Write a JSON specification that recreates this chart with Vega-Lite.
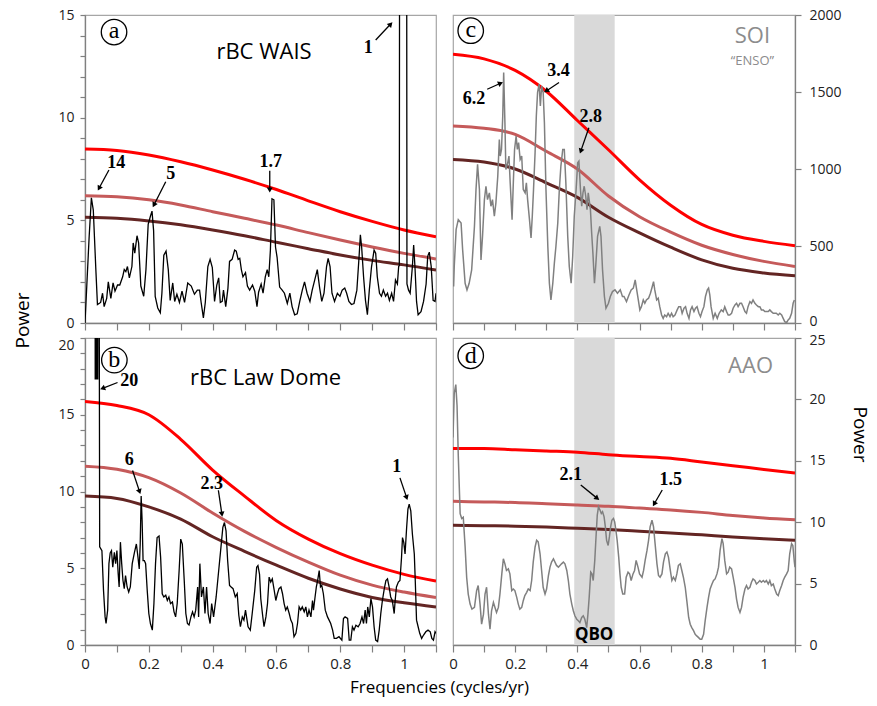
{
"$schema": "https://vega.github.io/schema/vega-lite/v6.json",
"padding": {"left": 13, "top": 7, "right": 5, "bottom": 5},
"background": "white",
"bounds": "flush",
"align": "each",
"columns": 2,
"spacing": {"row": 15, "column": 17},
"datasets": {
"specA": [{"f":0,"p":0},{"f":0.013,"p":4.2},{"f":0.02,"p":6.1},{"f":0.026,"p":5.5},{"f":0.034,"p":2.6},{"f":0.039,"p":0.9},{"f":0.049,"p":1.0},{"f":0.055,"p":1.45},{"f":0.06,"p":0.8},{"f":0.068,"p":1.2},{"f":0.073,"p":2.0},{"f":0.081,"p":1.2},{"f":0.088,"p":1.95},{"f":0.094,"p":1.55},{"f":0.102,"p":1.85},{"f":0.109,"p":1.85},{"f":0.118,"p":2.25},{"f":0.123,"p":2.6},{"f":0.128,"p":2.5},{"f":0.133,"p":2.75},{"f":0.139,"p":2.2},{"f":0.147,"p":2.75},{"f":0.151,"p":3.9},{"f":0.156,"p":3.4},{"f":0.163,"p":4.25},{"f":0.168,"p":3.9},{"f":0.175,"p":1.8},{"f":0.184,"p":1.3},{"f":0.191,"p":2.6},{"f":0.198,"p":4.8},{"f":0.205,"p":5.2},{"f":0.21,"p":5.45},{"f":0.215,"p":4.5},{"f":0.22,"p":1.3},{"f":0.228,"p":0.73},{"f":0.236,"p":0.5},{"f":0.241,"p":1.45},{"f":0.247,"p":3.3},{"f":0.254,"p":3.5},{"f":0.261,"p":2.6},{"f":0.267,"p":1.1},{"f":0.275,"p":1.95},{"f":0.281,"p":1.05},{"f":0.288,"p":1.4},{"f":0.296,"p":1.0},{"f":0.304,"p":1.55},{"f":0.312,"p":1.0},{"f":0.322,"p":1.95},{"f":0.333,"p":1.8},{"f":0.343,"p":1.4},{"f":0.352,"p":1.6},{"f":0.359,"p":1.6},{"f":0.364,"p":1.0},{"f":0.371,"p":0.25},{"f":0.377,"p":1.0},{"f":0.385,"p":2.75},{"f":0.392,"p":3.1},{"f":0.399,"p":2.7},{"f":0.406,"p":1.05},{"f":0.413,"p":1.85},{"f":0.419,"p":2.2},{"f":0.424,"p":1.0},{"f":0.43,"p":1.05},{"f":0.434,"p":1.6},{"f":0.441,"p":0.8},{"f":0.448,"p":1.7},{"f":0.453,"p":3.0},{"f":0.461,"p":3.1},{"f":0.469,"p":3.55},{"f":0.474,"p":3.5},{"f":0.48,"p":3.1},{"f":0.485,"p":3.15},{"f":0.49,"p":2.6},{"f":0.495,"p":2.25},{"f":0.503,"p":2.45},{"f":0.509,"p":1.8},{"f":0.516,"p":1.6},{"f":0.525,"p":1.85},{"f":0.532,"p":1.55},{"f":0.539,"p":0.8},{"f":0.544,"p":1.5},{"f":0.552,"p":1.9},{"f":0.558,"p":1.45},{"f":0.565,"p":2.25},{"f":0.571,"p":2.6},{"f":0.576,"p":2.25},{"f":0.581,"p":3.55},{"f":0.586,"p":6.05},{"f":0.592,"p":6.0},{"f":0.597,"p":3.7},{"f":0.602,"p":3.2},{"f":0.61,"p":1.75},{"f":0.618,"p":1.6},{"f":0.625,"p":1.45},{"f":0.634,"p":0.95},{"f":0.642,"p":1.45},{"f":0.649,"p":0.8},{"f":0.657,"p":0.4},{"f":0.665,"p":0.45},{"f":0.673,"p":1.05},{"f":0.681,"p":1.6},{"f":0.688,"p":2.0},{"f":0.696,"p":1.45},{"f":0.705,"p":1.05},{"f":0.712,"p":1.6},{"f":0.72,"p":2.1},{"f":0.728,"p":2.6},{"f":0.735,"p":1.75},{"f":0.742,"p":1.05},{"f":0.749,"p":1.45},{"f":0.757,"p":2.75},{"f":0.762,"p":3.15},{"f":0.768,"p":2.75},{"f":0.774,"p":1.45},{"f":0.782,"p":1.05},{"f":0.791,"p":1.45},{"f":0.799,"p":1.3},{"f":0.806,"p":1.6},{"f":0.814,"p":1.7},{"f":0.82,"p":1.45},{"f":0.827,"p":1.05},{"f":0.835,"p":0.9},{"f":0.843,"p":0.95},{"f":0.852,"p":1.6},{"f":0.859,"p":3.25},{"f":0.863,"p":4.3},{"f":0.867,"p":3.7},{"f":0.873,"p":2.25},{"f":0.879,"p":1.1},{"f":0.885,"p":0.4},{"f":0.891,"p":1.6},{"f":0.898,"p":2.75},{"f":0.906,"p":3.55},{"f":0.911,"p":3.4},{"f":0.916,"p":2.25},{"f":0.923,"p":1.45},{"f":0.929,"p":1.3},{"f":0.935,"p":1.6},{"f":0.942,"p":1.3},{"f":0.948,"p":1.45},{"f":0.954,"p":1.1},{"f":0.961,"p":1.45},{"f":0.967,"p":1.05},{"f":0.973,"p":2.1},{"f":0.979,"p":1.9},{"f":0.983,"p":2.75},{"f":0.985,"p":2.8},{"f":0.987,"p":40},{"f":0.997,"p":80},{"f":1.007,"p":40},{"f":1.009,"p":1.9},{"f":1.014,"p":1.6},{"f":1.019,"p":1.45},{"f":1.026,"p":2.75},{"f":1.03,"p":3.8},{"f":1.034,"p":2.75},{"f":1.039,"p":1.05},{"f":1.044,"p":0.4},{"f":1.053,"p":0.55},{"f":1.061,"p":1.05},{"f":1.069,"p":1.9},{"f":1.074,"p":3.25},{"f":1.079,"p":3.45},{"f":1.085,"p":2.75},{"f":1.091,"p":1.1},{"f":1.097,"p":1.05},{"f":1.1,"p":1.45}],
"specB": [{"f":0,"p":60},{"f":0.031,"p":45},{"f":0.032,"p":17.3},{"f":0.034,"p":35},{"f":0.036,"p":17.3},{"f":0.038,"p":35},{"f":0.04,"p":17.3},{"f":0.042,"p":35},{"f":0.044,"p":30},{"f":0.046,"p":6.4},{"f":0.053,"p":6.15},{"f":0.058,"p":3.56},{"f":0.063,"p":1.83},{"f":0.066,"p":1.4},{"f":0.071,"p":2.27},{"f":0.075,"p":5.3},{"f":0.079,"p":6.0},{"f":0.083,"p":6.15},{"f":0.087,"p":5.07},{"f":0.092,"p":6.04},{"f":0.096,"p":5.3},{"f":0.1,"p":6.15},{"f":0.104,"p":4.64},{"f":0.107,"p":3.78},{"f":0.111,"p":6.7},{"f":0.115,"p":5.3},{"f":0.119,"p":4.2},{"f":0.123,"p":3.67},{"f":0.127,"p":4.53},{"f":0.132,"p":3.78},{"f":0.137,"p":3.45},{"f":0.142,"p":3.78},{"f":0.148,"p":5.3},{"f":0.155,"p":6.04},{"f":0.161,"p":6.58},{"f":0.166,"p":5.72},{"f":0.17,"p":4.96},{"f":0.173,"p":6.58},{"f":0.176,"p":9.7},{"f":0.179,"p":8.1},{"f":0.182,"p":5.5},{"f":0.186,"p":5.5},{"f":0.19,"p":5.3},{"f":0.195,"p":3.56},{"f":0.2,"p":2.05},{"f":0.205,"p":1.4},{"f":0.211,"p":0.97},{"f":0.216,"p":2.7},{"f":0.221,"p":5.3},{"f":0.226,"p":7.0},{"f":0.232,"p":7.1},{"f":0.237,"p":5.72},{"f":0.242,"p":3.34},{"f":0.247,"p":3.13},{"f":0.253,"p":3.24},{"f":0.258,"p":2.9},{"f":0.263,"p":3.13},{"f":0.268,"p":2.7},{"f":0.274,"p":2.8},{"f":0.279,"p":2.16},{"f":0.284,"p":1.83},{"f":0.289,"p":2.7},{"f":0.295,"p":4.85},{"f":0.3,"p":6.9},{"f":0.305,"p":6.58},{"f":0.311,"p":4.2},{"f":0.316,"p":2.05},{"f":0.321,"p":1.4},{"f":0.326,"p":1.3},{"f":0.332,"p":1.83},{"f":0.337,"p":2.16},{"f":0.342,"p":1.83},{"f":0.347,"p":2.27},{"f":0.353,"p":3.78},{"f":0.356,"p":1.83},{"f":0.36,"p":5.3},{"f":0.365,"p":3.13},{"f":0.371,"p":3.78},{"f":0.376,"p":2.05},{"f":0.381,"p":3.78},{"f":0.386,"p":2.05},{"f":0.392,"p":1.4},{"f":0.397,"p":2.7},{"f":0.403,"p":1.83},{"f":0.411,"p":3.13},{"f":0.419,"p":4.85},{"f":0.426,"p":6.36},{"f":0.432,"p":7.66},{"f":0.437,"p":7.98},{"f":0.442,"p":7.44},{"f":0.447,"p":5.5},{"f":0.453,"p":3.88},{"f":0.458,"p":3.78},{"f":0.464,"p":3.67},{"f":0.471,"p":3.13},{"f":0.477,"p":3.34},{"f":0.482,"p":1.94},{"f":0.487,"p":1.19},{"f":0.493,"p":1.83},{"f":0.498,"p":1.62},{"f":0.503,"p":2.27},{"f":0.511,"p":1.19},{"f":0.518,"p":0.97},{"f":0.524,"p":2.05},{"f":0.532,"p":3.56},{"f":0.538,"p":5.07},{"f":0.542,"p":5.18},{"f":0.547,"p":4.6},{"f":0.551,"p":3.0},{"f":0.556,"p":2.05},{"f":0.561,"p":1.19},{"f":0.567,"p":1.83},{"f":0.572,"p":2.7},{"f":0.577,"p":4.42},{"f":0.582,"p":4.1},{"f":0.587,"p":4.31},{"f":0.593,"p":3.56},{"f":0.598,"p":2.9},{"f":0.603,"p":3.34},{"f":0.608,"p":3.67},{"f":0.614,"p":3.78},{"f":0.619,"p":3.34},{"f":0.624,"p":2.7},{"f":0.629,"p":2.27},{"f":0.634,"p":2.48},{"f":0.64,"p":2.05},{"f":0.645,"p":1.62},{"f":0.65,"p":1.4},{"f":0.655,"p":0.54},{"f":0.661,"p":0.76},{"f":0.666,"p":1.4},{"f":0.671,"p":2.48},{"f":0.676,"p":2.27},{"f":0.681,"p":2.48},{"f":0.687,"p":2.16},{"f":0.692,"p":2.48},{"f":0.697,"p":1.83},{"f":0.702,"p":2.27},{"f":0.708,"p":1.83},{"f":0.713,"p":2.9},{"f":0.716,"p":2.27},{"f":0.721,"p":3.13},{"f":0.725,"p":3.78},{"f":0.729,"p":4.2},{"f":0.734,"p":4.85},{"f":0.738,"p":3.78},{"f":0.742,"p":3.88},{"f":0.747,"p":3.34},{"f":0.753,"p":2.27},{"f":0.76,"p":1.83},{"f":0.765,"p":1.62},{"f":0.77,"p":1.4},{"f":0.776,"p":0.97},{"f":0.781,"p":0.43},{"f":0.788,"p":0.43},{"f":0.796,"p":0.54},{"f":0.805,"p":0.32},{"f":0.81,"p":1.73},{"f":0.815,"p":1.83},{"f":0.823,"p":1.73},{"f":0.828,"p":0.32},{"f":0.833,"p":0.32},{"f":0.838,"p":1.19},{"f":0.843,"p":0.97},{"f":0.849,"p":1.29},{"f":0.856,"p":1.19},{"f":0.862,"p":1.4},{"f":0.868,"p":1.83},{"f":0.873,"p":1.4},{"f":0.878,"p":2.27},{"f":0.882,"p":1.4},{"f":0.886,"p":2.48},{"f":0.891,"p":1.83},{"f":0.896,"p":3.02},{"f":0.901,"p":2.48},{"f":0.906,"p":1.19},{"f":0.911,"p":0.32},{"f":0.917,"p":0.22},{"f":0.922,"p":0.97},{"f":0.927,"p":2.05},{"f":0.932,"p":2.9},{"f":0.938,"p":3.67},{"f":0.943,"p":4.2},{"f":0.948,"p":4.31},{"f":0.953,"p":3.78},{"f":0.958,"p":3.13},{"f":0.963,"p":2.9},{"f":0.969,"p":2.05},{"f":0.972,"p":2.9},{"f":0.976,"p":3.78},{"f":0.982,"p":4.1},{"f":0.987,"p":4.2},{"f":0.992,"p":5.72},{"f":0.995,"p":7.0},{"f":0.999,"p":6.69},{"f":1.003,"p":5.93},{"f":1.008,"p":7.66},{"f":1.012,"p":8.85},{"f":1.016,"p":9.17},{"f":1.021,"p":8.74},{"f":1.026,"p":7.23},{"f":1.032,"p":5.93},{"f":1.035,"p":4.2},{"f":1.039,"p":1.62},{"f":1.044,"p":1.19},{"f":1.049,"p":0.76},{"f":1.055,"p":0.43},{"f":1.061,"p":0.65},{"f":1.068,"p":0.86},{"f":1.075,"p":0.97},{"f":1.082,"p":0.86},{"f":1.087,"p":0.43},{"f":1.092,"p":0.32},{"f":1.097,"p":0.86},{"f":1.1,"p":0.76}],
"specC": [{"f":0.002,"p":237},{"f":0.004,"p":367},{"f":0.01,"p":606},{"f":0.017,"p":671},{"f":0.026,"p":649},{"f":0.031,"p":476},{"f":0.039,"p":258},{"f":0.045,"p":215},{"f":0.052,"p":258},{"f":0.06,"p":345},{"f":0.069,"p":628},{"f":0.074,"p":867},{"f":0.079,"p":1030},{"f":0.085,"p":867},{"f":0.09,"p":410},{"f":0.095,"p":563},{"f":0.101,"p":801},{"f":0.106,"p":888},{"f":0.111,"p":801},{"f":0.117,"p":845},{"f":0.122,"p":758},{"f":0.127,"p":801},{"f":0.133,"p":693},{"f":0.138,"p":780},{"f":0.144,"p":953},{"f":0.149,"p":1192},{"f":0.152,"p":1084},{"f":0.156,"p":1127},{"f":0.16,"p":1344},{"f":0.163,"p":1627},{"f":0.167,"p":1301},{"f":0.17,"p":997},{"f":0.176,"p":1040},{"f":0.18,"p":1084},{"f":0.184,"p":910},{"f":0.19,"p":671},{"f":0.194,"p":910},{"f":0.198,"p":1127},{"f":0.203,"p":1214},{"f":0.207,"p":1127},{"f":0.211,"p":1171},{"f":0.216,"p":1062},{"f":0.221,"p":1084},{"f":0.226,"p":867},{"f":0.232,"p":845},{"f":0.236,"p":910},{"f":0.24,"p":801},{"f":0.246,"p":671},{"f":0.251,"p":552},{"f":0.255,"p":693},{"f":0.259,"p":867},{"f":0.264,"p":1106},{"f":0.268,"p":1344},{"f":0.272,"p":1497},{"f":0.277,"p":1551},{"f":0.281,"p":1410},{"f":0.285,"p":1540},{"f":0.29,"p":1497},{"f":0.294,"p":1301},{"f":0.299,"p":867},{"f":0.305,"p":497},{"f":0.31,"p":258},{"f":0.315,"p":150},{"f":0.321,"p":258},{"f":0.326,"p":389},{"f":0.331,"p":497},{"f":0.337,"p":649},{"f":0.342,"p":867},{"f":0.347,"p":1019},{"f":0.353,"p":1127},{"f":0.358,"p":1127},{"f":0.363,"p":910},{"f":0.369,"p":563},{"f":0.374,"p":367},{"f":0.38,"p":258},{"f":0.385,"p":432},{"f":0.39,"p":693},{"f":0.396,"p":867},{"f":0.401,"p":1040},{"f":0.405,"p":1051},{"f":0.41,"p":867},{"f":0.414,"p":758},{"f":0.418,"p":845},{"f":0.422,"p":888},{"f":0.427,"p":823},{"f":0.431,"p":736},{"f":0.435,"p":845},{"f":0.442,"p":736},{"f":0.446,"p":584},{"f":0.45,"p":454},{"f":0.455,"p":258},{"f":0.459,"p":367},{"f":0.465,"p":563},{"f":0.472,"p":628},{"f":0.476,"p":563},{"f":0.481,"p":345},{"f":0.487,"p":172},{"f":0.492,"p":96},{"f":0.5,"p":128},{"f":0.506,"p":172},{"f":0.513,"p":204},{"f":0.521,"p":215},{"f":0.529,"p":193},{"f":0.538,"p":215},{"f":0.545,"p":172},{"f":0.55,"p":172},{"f":0.558,"p":139},{"f":0.566,"p":182},{"f":0.573,"p":215},{"f":0.58,"p":226},{"f":0.586,"p":280},{"f":0.59,"p":226},{"f":0.596,"p":150},{"f":0.601,"p":85},{"f":0.606,"p":106},{"f":0.612,"p":150},{"f":0.617,"p":128},{"f":0.622,"p":150},{"f":0.629,"p":161},{"f":0.635,"p":193},{"f":0.641,"p":237},{"f":0.645,"p":269},{"f":0.649,"p":215},{"f":0.655,"p":150},{"f":0.66,"p":161},{"f":0.665,"p":106},{"f":0.671,"p":52},{"f":0.676,"p":30},{"f":0.681,"p":52},{"f":0.687,"p":41},{"f":0.692,"p":63},{"f":0.698,"p":41},{"f":0.703,"p":63},{"f":0.708,"p":41},{"f":0.714,"p":52},{"f":0.721,"p":85},{"f":0.726,"p":106},{"f":0.732,"p":106},{"f":0.737,"p":63},{"f":0.743,"p":96},{"f":0.748,"p":106},{"f":0.753,"p":63},{"f":0.759,"p":30},{"f":0.764,"p":85},{"f":0.769,"p":106},{"f":0.775,"p":74},{"f":0.78,"p":96},{"f":0.785,"p":106},{"f":0.791,"p":63},{"f":0.796,"p":41},{"f":0.801,"p":74},{"f":0.807,"p":106},{"f":0.812,"p":172},{"f":0.818,"p":215},{"f":0.822,"p":226},{"f":0.826,"p":182},{"f":0.83,"p":106},{"f":0.837,"p":30},{"f":0.843,"p":63},{"f":0.85,"p":30},{"f":0.856,"p":63},{"f":0.863,"p":85},{"f":0.869,"p":74},{"f":0.874,"p":106},{"f":0.88,"p":74},{"f":0.885,"p":52},{"f":0.89,"p":52},{"f":0.896,"p":63},{"f":0.901,"p":96},{"f":0.907,"p":117},{"f":0.912,"p":128},{"f":0.917,"p":106},{"f":0.923,"p":128},{"f":0.928,"p":128},{"f":0.933,"p":106},{"f":0.939,"p":74},{"f":0.944,"p":63},{"f":0.949,"p":106},{"f":0.955,"p":139},{"f":0.96,"p":128},{"f":0.965,"p":150},{"f":0.971,"p":128},{"f":0.976,"p":117},{"f":0.982,"p":106},{"f":0.987,"p":106},{"f":0.992,"p":85},{"f":0.998,"p":85},{"f":1.003,"p":74},{"f":1.008,"p":74},{"f":1.014,"p":74},{"f":1.019,"p":85},{"f":1.024,"p":74},{"f":1.03,"p":63},{"f":1.035,"p":63},{"f":1.04,"p":63},{"f":1.046,"p":52},{"f":1.051,"p":63},{"f":1.057,"p":52},{"f":1.062,"p":30},{"f":1.067,"p":9},{"f":1.073,"p":2},{"f":1.078,"p":20},{"f":1.083,"p":30},{"f":1.089,"p":63},{"f":1.094,"p":128},{"f":1.098,"p":150}],
"specD": [{"f":0,"p":16.9},{"f":0.004,"p":20.5},{"f":0.009,"p":21.2},{"f":0.013,"p":19.5},{"f":0.017,"p":15.4},{"f":0.023,"p":10.7},{"f":0.028,"p":10.3},{"f":0.033,"p":10.4},{"f":0.039,"p":8.0},{"f":0.044,"p":5.5},{"f":0.049,"p":4.15},{"f":0.055,"p":3.33},{"f":0.061,"p":2.92},{"f":0.069,"p":3.06},{"f":0.076,"p":4.43},{"f":0.081,"p":4.84},{"f":0.087,"p":3.33},{"f":0.092,"p":1.7},{"f":0.098,"p":2.51},{"f":0.103,"p":4.15},{"f":0.108,"p":4.7},{"f":0.114,"p":2.51},{"f":0.119,"p":1.28},{"f":0.124,"p":2.79},{"f":0.13,"p":3.47},{"f":0.135,"p":3.06},{"f":0.14,"p":2.65},{"f":0.146,"p":3.06},{"f":0.151,"p":4.15},{"f":0.157,"p":5.79},{"f":0.162,"p":7.02},{"f":0.167,"p":6.61},{"f":0.172,"p":6.07},{"f":0.178,"p":6.2},{"f":0.183,"p":5.79},{"f":0.189,"p":4.43},{"f":0.194,"p":4.56},{"f":0.199,"p":4.43},{"f":0.205,"p":3.88},{"f":0.21,"p":3.33},{"f":0.215,"p":2.92},{"f":0.221,"p":3.06},{"f":0.226,"p":3.61},{"f":0.231,"p":4.02},{"f":0.237,"p":4.29},{"f":0.242,"p":4.56},{"f":0.248,"p":4.43},{"f":0.253,"p":5.25},{"f":0.258,"p":6.75},{"f":0.264,"p":7.98},{"f":0.269,"p":8.52},{"f":0.274,"p":8.39},{"f":0.28,"p":7.43},{"f":0.285,"p":6.07},{"f":0.29,"p":4.7},{"f":0.296,"p":4.15},{"f":0.301,"p":4.56},{"f":0.307,"p":5.66},{"f":0.312,"p":6.34},{"f":0.317,"p":6.75},{"f":0.323,"p":7.02},{"f":0.328,"p":6.75},{"f":0.333,"p":6.48},{"f":0.339,"p":6.34},{"f":0.344,"p":6.48},{"f":0.349,"p":6.61},{"f":0.355,"p":6.75},{"f":0.36,"p":6.61},{"f":0.366,"p":6.07},{"f":0.371,"p":5.25},{"f":0.376,"p":4.15},{"f":0.382,"p":3.33},{"f":0.387,"p":2.79},{"f":0.392,"p":2.38},{"f":0.398,"p":2.1},{"f":0.403,"p":1.97},{"f":0.408,"p":1.83},{"f":0.414,"p":2.24},{"f":0.419,"p":2.38},{"f":0.424,"p":2.1},{"f":0.43,"p":1.42},{"f":0.434,"p":2.51},{"f":0.438,"p":3.88},{"f":0.443,"p":5.93},{"f":0.447,"p":5.79},{"f":0.451,"p":5.25},{"f":0.456,"p":6.89},{"f":0.46,"p":8.8},{"f":0.464,"p":10.57},{"f":0.468,"p":11.26},{"f":0.473,"p":10.98},{"f":0.477,"p":10.71},{"f":0.481,"p":10.85},{"f":0.486,"p":10.44},{"f":0.49,"p":9.62},{"f":0.494,"p":8.52},{"f":0.499,"p":8.11},{"f":0.503,"p":8.8},{"f":0.507,"p":9.62},{"f":0.511,"p":10.16},{"f":0.516,"p":10.3},{"f":0.52,"p":10.03},{"f":0.524,"p":9.34},{"f":0.528,"p":8.52},{"f":0.533,"p":7.16},{"f":0.537,"p":5.79},{"f":0.541,"p":4.7},{"f":0.546,"p":4.15},{"f":0.552,"p":4.15},{"f":0.557,"p":5.52},{"f":0.563,"p":5.93},{"f":0.568,"p":5.79},{"f":0.573,"p":5.25},{"f":0.579,"p":5.79},{"f":0.584,"p":6.07},{"f":0.589,"p":6.89},{"f":0.595,"p":6.34},{"f":0.6,"p":5.79},{"f":0.608,"p":5.52},{"f":0.613,"p":6.07},{"f":0.618,"p":6.89},{"f":0.624,"p":7.7},{"f":0.629,"p":8.52},{"f":0.634,"p":9.62},{"f":0.64,"p":10.16},{"f":0.645,"p":9.62},{"f":0.65,"p":8.25},{"f":0.656,"p":6.61},{"f":0.661,"p":5.66},{"f":0.666,"p":5.52},{"f":0.672,"p":5.79},{"f":0.677,"p":6.75},{"f":0.683,"p":7.43},{"f":0.688,"p":7.57},{"f":0.693,"p":7.16},{"f":0.699,"p":6.07},{"f":0.704,"p":5.25},{"f":0.709,"p":5.52},{"f":0.715,"p":5.25},{"f":0.72,"p":5.79},{"f":0.725,"p":6.48},{"f":0.731,"p":6.61},{"f":0.736,"p":6.07},{"f":0.741,"p":5.52},{"f":0.747,"p":4.7},{"f":0.752,"p":3.61},{"f":0.758,"p":2.24},{"f":0.763,"p":1.69},{"f":0.768,"p":1.42},{"f":0.774,"p":1.15},{"f":0.779,"p":0.87},{"f":0.784,"p":0.74},{"f":0.79,"p":0.6},{"f":0.795,"p":0.46},{"f":0.8,"p":0.46},{"f":0.806,"p":0.87},{"f":0.811,"p":1.97},{"f":0.817,"p":3.06},{"f":0.822,"p":3.88},{"f":0.827,"p":4.56},{"f":0.833,"p":4.97},{"f":0.838,"p":5.25},{"f":0.843,"p":5.38},{"f":0.849,"p":5.79},{"f":0.854,"p":6.34},{"f":0.859,"p":7.7},{"f":0.865,"p":8.66},{"f":0.869,"p":8.25},{"f":0.874,"p":6.89},{"f":0.88,"p":5.79},{"f":0.885,"p":5.93},{"f":0.89,"p":6.34},{"f":0.896,"p":6.2},{"f":0.901,"p":5.52},{"f":0.907,"p":4.7},{"f":0.912,"p":3.74},{"f":0.917,"p":3.06},{"f":0.923,"p":2.65},{"f":0.928,"p":3.06},{"f":0.933,"p":3.88},{"f":0.939,"p":4.56},{"f":0.944,"p":4.84},{"f":0.949,"p":4.56},{"f":0.955,"p":4.7},{"f":0.96,"p":5.11},{"f":0.965,"p":5.38},{"f":0.971,"p":5.25},{"f":0.976,"p":4.97},{"f":0.982,"p":5.11},{"f":0.987,"p":5.25},{"f":0.992,"p":5.11},{"f":0.998,"p":5.25},{"f":1.003,"p":5.11},{"f":1.008,"p":5.25},{"f":1.014,"p":4.97},{"f":1.019,"p":5.25},{"f":1.024,"p":4.84},{"f":1.03,"p":4.97},{"f":1.035,"p":4.56},{"f":1.041,"p":4.15},{"f":1.046,"p":4.02},{"f":1.051,"p":4.43},{"f":1.057,"p":4.84},{"f":1.062,"p":5.25},{"f":1.067,"p":5.52},{"f":1.073,"p":5.79},{"f":1.078,"p":6.07},{"f":1.083,"p":7.43},{"f":1.089,"p":8.25},{"f":1.093,"p":8.11},{"f":1.098,"p":6.75},{"f":1.1,"p":6.34}],
"sigA": [{"f":0,"p":8.47,"level":"99"},{"f":0.1,"p":8.4,"level":"99"},{"f":0.2,"p":8.18,"level":"99"},{"f":0.3,"p":7.85,"level":"99"},{"f":0.4,"p":7.45,"level":"99"},{"f":0.5,"p":7.0,"level":"99"},{"f":0.6,"p":6.5,"level":"99"},{"f":0.7,"p":5.95,"level":"99"},{"f":0.8,"p":5.42,"level":"99"},{"f":0.9,"p":4.95,"level":"99"},{"f":1.0,"p":4.53,"level":"99"},{"f":1.1,"p":4.2,"level":"99"},
 {"f":0,"p":6.2,"level":"95"},{"f":0.1,"p":6.15,"level":"95"},{"f":0.2,"p":6.0,"level":"95"},{"f":0.3,"p":5.75,"level":"95"},{"f":0.4,"p":5.42,"level":"95"},{"f":0.5,"p":5.1,"level":"95"},{"f":0.6,"p":4.77,"level":"95"},{"f":0.7,"p":4.4,"level":"95"},{"f":0.8,"p":4.04,"level":"95"},{"f":0.9,"p":3.7,"level":"95"},{"f":1.0,"p":3.39,"level":"95"},{"f":1.1,"p":3.12,"level":"95"},
 {"f":0,"p":5.15,"level":"90"},{"f":0.1,"p":5.1,"level":"90"},{"f":0.2,"p":4.97,"level":"90"},{"f":0.3,"p":4.78,"level":"90"},{"f":0.4,"p":4.53,"level":"90"},{"f":0.5,"p":4.25,"level":"90"},{"f":0.6,"p":3.93,"level":"90"},{"f":0.7,"p":3.62,"level":"90"},{"f":0.8,"p":3.31,"level":"90"},{"f":0.9,"p":3.05,"level":"90"},{"f":1.0,"p":2.83,"level":"90"},{"f":1.1,"p":2.58,"level":"90"}],
"sigB": [{"f":0,"p":15.86,"level":"99"},{"f":0.1,"p":15.6,"level":"99"},{"f":0.2,"p":15.0,"level":"99"},{"f":0.3,"p":13.4,"level":"99"},{"f":0.4,"p":11.4,"level":"99"},{"f":0.5,"p":9.7,"level":"99"},{"f":0.6,"p":8.1,"level":"99"},{"f":0.7,"p":6.9,"level":"99"},{"f":0.8,"p":5.95,"level":"99"},{"f":0.9,"p":5.2,"level":"99"},{"f":1.0,"p":4.6,"level":"99"},{"f":1.1,"p":4.16,"level":"99"},
 {"f":0,"p":11.65,"level":"95"},{"f":0.1,"p":11.45,"level":"95"},{"f":0.2,"p":10.9,"level":"95"},{"f":0.3,"p":9.9,"level":"95"},{"f":0.4,"p":8.6,"level":"95"},{"f":0.5,"p":7.4,"level":"95"},{"f":0.6,"p":6.35,"level":"95"},{"f":0.7,"p":5.4,"level":"95"},{"f":0.8,"p":4.55,"level":"95"},{"f":0.9,"p":3.9,"level":"95"},{"f":1.0,"p":3.45,"level":"95"},{"f":1.1,"p":3.09,"level":"95"},
 {"f":0,"p":9.7,"level":"90"},{"f":0.1,"p":9.55,"level":"90"},{"f":0.2,"p":9.0,"level":"90"},{"f":0.3,"p":8.2,"level":"90"},{"f":0.4,"p":7.05,"level":"90"},{"f":0.5,"p":6.1,"level":"90"},{"f":0.6,"p":5.2,"level":"90"},{"f":0.7,"p":4.35,"level":"90"},{"f":0.8,"p":3.65,"level":"90"},{"f":0.9,"p":3.1,"level":"90"},{"f":1.0,"p":2.75,"level":"90"},{"f":1.1,"p":2.48,"level":"90"}],
"sigC": [{"f":0,"p":1745,"level":"99"},{"f":0.1,"p":1715,"level":"99"},{"f":0.2,"p":1640,"level":"99"},{"f":0.3,"p":1505,"level":"99"},{"f":0.4,"p":1315,"level":"99"},{"f":0.5,"p":1125,"level":"99"},{"f":0.6,"p":930,"level":"99"},{"f":0.7,"p":765,"level":"99"},{"f":0.8,"p":640,"level":"99"},{"f":0.9,"p":570,"level":"99"},{"f":1.0,"p":530,"level":"99"},{"f":1.1,"p":502,"level":"99"},
 {"f":0,"p":1280,"level":"95"},{"f":0.1,"p":1265,"level":"95"},{"f":0.2,"p":1225,"level":"95"},{"f":0.3,"p":1115,"level":"95"},{"f":0.4,"p":1000,"level":"95"},{"f":0.5,"p":825,"level":"95"},{"f":0.6,"p":690,"level":"95"},{"f":0.7,"p":590,"level":"95"},{"f":0.8,"p":505,"level":"95"},{"f":0.9,"p":445,"level":"95"},{"f":1.0,"p":400,"level":"95"},{"f":1.1,"p":367,"level":"95"},
 {"f":0,"p":1062,"level":"90"},{"f":0.1,"p":1045,"level":"90"},{"f":0.2,"p":1000,"level":"90"},{"f":0.3,"p":910,"level":"90"},{"f":0.4,"p":816,"level":"90"},{"f":0.5,"p":687,"level":"90"},{"f":0.6,"p":585,"level":"90"},{"f":0.7,"p":492,"level":"90"},{"f":0.8,"p":410,"level":"90"},{"f":0.9,"p":355,"level":"90"},{"f":1.0,"p":325,"level":"90"},{"f":1.1,"p":306,"level":"90"}],
"sigD": [{"f":0,"p":16.0,"level":"99"},{"f":0.1,"p":16.0,"level":"99"},{"f":0.2,"p":15.9,"level":"99"},{"f":0.3,"p":15.8,"level":"99"},{"f":0.4,"p":15.7,"level":"99"},{"f":0.5,"p":15.5,"level":"99"},{"f":0.6,"p":15.35,"level":"99"},{"f":0.7,"p":15.2,"level":"99"},{"f":0.8,"p":14.9,"level":"99"},{"f":0.9,"p":14.6,"level":"99"},{"f":1.0,"p":14.3,"level":"99"},{"f":1.1,"p":14.0,"level":"99"},
 {"f":0,"p":11.7,"level":"95"},{"f":0.1,"p":11.65,"level":"95"},{"f":0.2,"p":11.6,"level":"95"},{"f":0.3,"p":11.5,"level":"95"},{"f":0.4,"p":11.4,"level":"95"},{"f":0.5,"p":11.3,"level":"95"},{"f":0.6,"p":11.15,"level":"95"},{"f":0.7,"p":11.0,"level":"95"},{"f":0.8,"p":10.8,"level":"95"},{"f":0.9,"p":10.55,"level":"95"},{"f":1.0,"p":10.35,"level":"95"},{"f":1.1,"p":10.2,"level":"95"},
 {"f":0,"p":9.75,"level":"90"},{"f":0.1,"p":9.72,"level":"90"},{"f":0.2,"p":9.68,"level":"90"},{"f":0.3,"p":9.6,"level":"90"},{"f":0.4,"p":9.5,"level":"90"},{"f":0.5,"p":9.4,"level":"90"},{"f":0.6,"p":9.27,"level":"90"},{"f":0.7,"p":9.13,"level":"90"},{"f":0.8,"p":8.97,"level":"90"},{"f":0.9,"p":8.8,"level":"90"},{"f":1.0,"p":8.65,"level":"90"},{"f":1.1,"p":8.52,"level":"90"}],
"annA": [{"f":0.098,"p":7.81,"t":"14"},{"f":0.269,"p":7.26,"t":"5"},{"f":0.582,"p":7.83,"t":"1.7"},{"f":0.888,"p":13.38,"t":"1"}],
"arrA": [{"f":0.075,"p":7.45,"f2":0.044,"p2":6.56},{"f":0.253,"p":6.88,"f2":0.216,"p2":5.75},{"f":0.579,"p":7.42,"f2":0.579,"p2":6.48},{"f":0.911,"p":13.78,"f2":0.958,"p2":14.56}],
"annB": [{"f":0.139,"p":17.2,"t":"20"},{"f":0.139,"p":12.02,"t":"6"},{"f":0.397,"p":10.5,"t":"2.3"},{"f":0.977,"p":11.59,"t":"1"}],
"arrB": [{"f":0.102,"p":17.1,"f2":0.055,"p2":16.72},{"f":0.149,"p":11.37,"f2":0.171,"p2":9.99},{"f":0.418,"p":10.08,"f2":0.429,"p2":8.52},{"f":0.987,"p":10.89,"f2":1.008,"p2":9.6}],
"annC": [{"f":0.0675,"p":1453,"t":"6.2"},{"f":0.339,"p":1637,"t":"3.4"},{"f":0.443,"p":1340,"t":"2.8"}],
"arrC": [{"f":0.11,"p":1518,"f2":0.153,"p2":1557},{"f":0.341,"p":1562,"f2":0.3,"p2":1507},{"f":0.437,"p":1268,"f2":0.411,"p2":1116}],
"annD": [{"f":0.379,"p":13.85,"t":"2.1"},{"f":0.7,"p":13.44,"t":"1.5"}],
"arrD": [{"f":0.411,"p":13.03,"f2":0.464,"p2":11.94},{"f":0.673,"p":12.62,"f2":0.647,"p2":11.48}],
"qboC": [{"f":0.39,"f2":0.52,"p":0,"p2":2000}],
"qboD": [{"f":0.39,"f2":0.52,"p":0,"p2":25}]
},
"concat": [
{
 "width": 351, "height": 308,
 "encoding": {
  "x": {"field": "f", "type": "quantitative", "scale": {"domain": [0, 1.1], "nice": false, "zero": false},
        "axis": {"values": [0,0.1,0.2,0.3,0.4,0.5,0.6,0.7,0.8,0.9,1,1.1], "labels": false, "tickSize": 7, "title": null}},
  "y": {"field": "p", "type": "quantitative", "scale": {"domain": [0, 15], "nice": false},
        "axis": {"values": [0,1,2,3,4,5,6,7,8,9,10,11,12,13,14,15], "labelExpr": "datum.value % 5 === 0 ? datum.label : ''", "labelFontSize": 14, "tickSize": 5, "labelPadding": 6, "title": "Power", "titleY": 305, "titlePadding": 25}}
 },
 "layer": [
  {"data": {"name": "sigA"}, "mark": {"type": "line", "strokeWidth": 3, "interpolate": "monotone", "clip": true},
   "encoding": {"color": {"field": "level", "type": "nominal", "scale": {"domain": ["99","95","90"], "range": ["#ff0000","#c55a5a","#632523"]}, "legend": null}}},
  {"data": {"name": "specA"}, "mark": {"type": "line", "color": "#000000", "strokeWidth": 1.3, "clip": true}, "encoding": {}},
  {"data": {"name": "arrA"}, "mark": {"type": "rule", "color": "#000000", "strokeWidth": 1.3},
   "encoding": {"x2": {"field": "f2"}, "y2": {"field": "p2"}}},
  {"data": {"name": "arrA"}, "transform": [{"calculate": "atan2((datum.f2-datum.f)*319, (datum.p2-datum.p)*20.53)*180/PI", "as": "ang"}],
   "mark": {"type": "point", "shape": "triangle-up", "filled": true, "color": "#000000", "size": 35, "opacity": 1},
   "encoding": {"x": {"field": "f2", "type": "quantitative"}, "y": {"field": "p2", "type": "quantitative"}, "angle": {"field": "ang", "type": "quantitative", "scale": null}}},
  {"data": {"name": "annA"}, "mark": {"type": "text", "font": "Liberation Serif", "fontWeight": "bold", "fontSize": 18, "baseline": "middle", "color": "#000000"},
   "encoding": {"text": {"field": "t"}}},
  {"data": {"values": [{"f": 0.091, "p": 14.17, "t": "a"}]}, "mark": {"type": "point", "shape": "circle", "filled": false, "stroke": "#000000", "strokeWidth": 1.3, "size": 650, "opacity": 1}, "encoding": {}},
  {"data": {"values": [{"f": 0.091, "p": 14.17, "t": "a"}]}, "mark": {"type": "text", "font": "Liberation Serif", "fontSize": 24, "baseline": "middle", "dy": -1, "color": "#000000"}, "encoding": {"text": {"field": "t"}}},
  {"data": {"values": [{"f": 0.561, "p": 13.2, "t": "rBC WAIS"}]}, "mark": {"type": "text", "font": "Open Sans", "fontSize": 22, "baseline": "middle", "color": "#000000"}, "encoding": {"text": {"field": "t"}}}
 ]
},
{
 "width": 342, "height": 308,
 "encoding": {
  "x": {"field": "f", "type": "quantitative", "scale": {"domain": [0, 1.1], "nice": false, "zero": false},
        "axis": {"values": [0,0.1,0.2,0.3,0.4,0.5,0.6,0.7,0.8,0.9,1,1.1], "labels": false, "tickSize": 7, "title": null}},
  "y": {"field": "p", "type": "quantitative", "scale": {"domain": [0, 2000], "nice": false},
        "axis": {"orient": "right", "values": [0,500,1000,1500,2000], "format": "d", "labelFontSize": 14, "labelOffset": {"condition": {"test": "datum.value === 0", "value": -2}, "value": 0}, "tickSize": 6, "labelPadding": 8, "title": null}}
 },
 "layer": [
  {"data": {"name": "qboC"}, "mark": {"type": "rect", "color": "#d9d9d9", "opacity": 1},
   "encoding": {"x2": {"field": "f2"}, "y2": {"field": "p2"}}},
  {"data": {"name": "sigC"}, "mark": {"type": "line", "strokeWidth": 3, "interpolate": "monotone", "clip": true},
   "encoding": {"color": {"field": "level", "type": "nominal", "scale": {"domain": ["99","95","90"], "range": ["#ff0000","#c55a5a","#632523"]}, "legend": null}}},
  {"data": {"name": "specC"}, "mark": {"type": "line", "color": "#808080", "strokeWidth": 1.5, "clip": true}, "encoding": {}},
  {"data": {"name": "arrC"}, "mark": {"type": "rule", "color": "#000000", "strokeWidth": 1.3},
   "encoding": {"x2": {"field": "f2"}, "y2": {"field": "p2"}}},
  {"data": {"name": "arrC"}, "transform": [{"calculate": "atan2((datum.f2-datum.f)*310.9, (datum.p2-datum.p)*0.1535)*180/PI", "as": "ang"}],
   "mark": {"type": "point", "shape": "triangle-up", "filled": true, "color": "#000000", "size": 35, "opacity": 1},
   "encoding": {"x": {"field": "f2", "type": "quantitative"}, "y": {"field": "p2", "type": "quantitative"}, "angle": {"field": "ang", "type": "quantitative", "scale": null}}},
  {"data": {"name": "annC"}, "mark": {"type": "text", "font": "Liberation Serif", "fontWeight": "bold", "fontSize": 18, "baseline": "middle", "color": "#000000"},
   "encoding": {"text": {"field": "t"}}},
  {"data": {"values": [{"f": 0.057, "p": 1898, "t": "c"}]}, "mark": {"type": "point", "shape": "circle", "filled": false, "stroke": "#000000", "strokeWidth": 1.3, "size": 650, "opacity": 1}, "encoding": {}},
  {"data": {"values": [{"f": 0.057, "p": 1898, "t": "c"}]}, "mark": {"type": "text", "font": "Liberation Serif", "fontSize": 24, "baseline": "middle", "dy": -1, "color": "#000000"}, "encoding": {"text": {"field": "t"}}},
  {"data": {"values": [{"f": 0.963, "p": 1861, "t": "SOI"}]}, "mark": {"type": "text", "font": "Open Sans", "fontSize": 22, "baseline": "middle", "color": "#8c8c8c"}, "encoding": {"text": {"field": "t"}}},
  {"data": {"values": [{"f": 0.963, "p": 1703, "t": "“ENSO”"}]}, "mark": {"type": "text", "font": "Open Sans", "fontSize": 13, "baseline": "middle", "color": "#8c8c8c"}, "encoding": {"text": {"field": "t"}}}
 ]
},
{
 "width": 351, "height": 307,
 "encoding": {
  "x": {"field": "f", "type": "quantitative", "scale": {"domain": [0, 1.1], "nice": false, "zero": false},
        "axis": {"values": [0,0.1,0.2,0.3,0.4,0.5,0.6,0.7,0.8,0.9,1,1.1], "format": "~g", "labelExpr": "(round(datum.value*10) % 2 === 0 && datum.value < 1.05) ? datum.label : ''", "tickSize": 7, "labelPadding": 4, "title": "Frequencies (cycles/yr)", "titleFontSize": 17, "titleX": 354, "titlePadding": 8}},
  "y": {"field": "p", "type": "quantitative", "scale": {"domain": [0, 20], "nice": false},
        "axis": {"values": [0,1,2,3,4,5,6,7,8,9,10,11,12,13,14,15,16,17,18,19,20], "labelExpr": "datum.value % 5 === 0 ? datum.label : ''", "labelFontSize": 14, "labelBaseline": {"condition": {"test": "datum.value === 20", "value": "top"}, "value": "middle"}, "tickSize": 5, "labelPadding": 6, "title": null}}
 },
 "layer": [
  {"data": {"name": "sigB"}, "mark": {"type": "line", "strokeWidth": 3, "interpolate": "monotone", "clip": true},
   "encoding": {"color": {"field": "level", "type": "nominal", "scale": {"domain": ["99","95","90"], "range": ["#ff0000","#c55a5a","#632523"]}, "legend": null}}},
  {"data": {"name": "specB"}, "mark": {"type": "line", "color": "#000000", "strokeWidth": 1.3, "clip": true}, "encoding": {}},
  {"data": {"name": "arrB"}, "mark": {"type": "rule", "color": "#000000", "strokeWidth": 1.3},
   "encoding": {"x2": {"field": "f2"}, "y2": {"field": "p2"}}},
  {"data": {"name": "arrB"}, "transform": [{"calculate": "atan2((datum.f2-datum.f)*316.4, (datum.p2-datum.p)*15.45)*180/PI", "as": "ang"}],
   "mark": {"type": "point", "shape": "triangle-up", "filled": true, "color": "#000000", "size": 35, "opacity": 1},
   "encoding": {"x": {"field": "f2", "type": "quantitative"}, "y": {"field": "p2", "type": "quantitative"}, "angle": {"field": "ang", "type": "quantitative", "scale": null}}},
  {"data": {"name": "annB"}, "mark": {"type": "text", "font": "Liberation Serif", "fontWeight": "bold", "fontSize": 18, "baseline": "middle", "color": "#000000"},
   "encoding": {"text": {"field": "t"}}},
  {"data": {"values": [{"f": 0.092, "p": 18.56, "t": "b"}]}, "mark": {"type": "point", "shape": "circle", "filled": false, "stroke": "#000000", "strokeWidth": 1.3, "size": 650, "opacity": 1}, "encoding": {}},
  {"data": {"values": [{"f": 0.092, "p": 18.56, "t": "b"}]}, "mark": {"type": "text", "font": "Liberation Serif", "fontSize": 24, "baseline": "middle", "dy": 0, "color": "#000000"}, "encoding": {"text": {"field": "t"}}},
  {"data": {"values": [{"f": 0.566, "p": 17.37, "t": "rBC Law Dome"}]}, "mark": {"type": "text", "font": "Open Sans", "fontSize": 22, "baseline": "middle", "color": "#000000"}, "encoding": {"text": {"field": "t"}}}
 ]
},
{
 "width": 342, "height": 307,
 "encoding": {
  "x": {"field": "f", "type": "quantitative", "scale": {"domain": [0, 1.1], "nice": false, "zero": false},
        "axis": {"values": [0,0.1,0.2,0.3,0.4,0.5,0.6,0.7,0.8,0.9,1,1.1], "format": "~g", "labelExpr": "(round(datum.value*10) % 2 === 0 && datum.value < 1.05) ? datum.label : ''", "tickSize": 7, "labelPadding": 4, "title": null}},
  "y": {"field": "p", "type": "quantitative", "scale": {"domain": [0, 25], "nice": false},
        "axis": {"orient": "right", "values": [0,5,10,15,20,25], "labelFontSize": 14, "labelOffset": {"condition": {"test": "datum.value === 25", "value": 2}, "value": 0}, "tickSize": 6, "labelPadding": 8, "title": "Power", "titleY": 96, "titlePadding": 24}}
 },
 "layer": [
  {"data": {"name": "qboD"}, "mark": {"type": "rect", "color": "#d9d9d9", "opacity": 1},
   "encoding": {"x2": {"field": "f2"}, "y2": {"field": "p2"}}},
  {"data": {"name": "sigD"}, "mark": {"type": "line", "strokeWidth": 3, "interpolate": "monotone", "clip": true},
   "encoding": {"color": {"field": "level", "type": "nominal", "scale": {"domain": ["99","95","90"], "range": ["#ff0000","#c55a5a","#632523"]}, "legend": null}}},
  {"data": {"name": "specD"}, "mark": {"type": "line", "color": "#808080", "strokeWidth": 1.5, "clip": true}, "encoding": {}},
  {"data": {"name": "arrD"}, "mark": {"type": "rule", "color": "#000000", "strokeWidth": 1.3},
   "encoding": {"x2": {"field": "f2"}, "y2": {"field": "p2"}}},
  {"data": {"name": "arrD"}, "transform": [{"calculate": "atan2((datum.f2-datum.f)*310.9, (datum.p2-datum.p)*12.2)*180/PI", "as": "ang"}],
   "mark": {"type": "point", "shape": "triangle-up", "filled": true, "color": "#000000", "size": 35, "opacity": 1},
   "encoding": {"x": {"field": "f2", "type": "quantitative"}, "y": {"field": "p2", "type": "quantitative"}, "angle": {"field": "ang", "type": "quantitative", "scale": null}}},
  {"data": {"name": "annD"}, "mark": {"type": "text", "font": "Liberation Serif", "fontWeight": "bold", "fontSize": 18, "baseline": "middle", "color": "#000000"},
   "encoding": {"text": {"field": "t"}}},
  {"data": {"values": [{"f": 0.057, "p": 23.55, "t": "d"}]}, "mark": {"type": "point", "shape": "circle", "filled": false, "stroke": "#000000", "strokeWidth": 1.3, "size": 650, "opacity": 1}, "encoding": {}},
  {"data": {"values": [{"f": 0.057, "p": 23.55, "t": "d"}]}, "mark": {"type": "text", "font": "Liberation Serif", "fontSize": 24, "baseline": "middle", "dy": 0, "color": "#000000"}, "encoding": {"text": {"field": "t"}}},
  {"data": {"values": [{"f": 0.957, "p": 22.73, "t": "AAO"}]}, "mark": {"type": "text", "font": "Open Sans", "fontSize": 22, "baseline": "middle", "color": "#8c8c8c"}, "encoding": {"text": {"field": "t"}}},
  {"data": {"values": [{"f": 0.454, "p": 0.82, "t": "QBO"}]}, "mark": {"type": "text", "font": "Open Sans", "fontSize": 17, "fontWeight": "bold", "baseline": "middle", "color": "#000000"}, "encoding": {"text": {"field": "t"}}}
 ]
}
],
"config": {
 "font": "Open Sans",
 "view": {"stroke": "#a6a6a6", "strokeWidth": 1.2},
 "axis": {"domainColor": "#808080", "domainWidth": 1.3, "tickColor": "#808080", "tickWidth": 1.2, "labelFont": "Open Sans", "labelFontSize": 15, "labelColor": "#222222", "labelFlush": false, "labelOverlap": false, "titleFont": "Open Sans", "titleFontSize": 19, "titleFontWeight": "normal", "titleColor": "#000000", "grid": false}
}
}
